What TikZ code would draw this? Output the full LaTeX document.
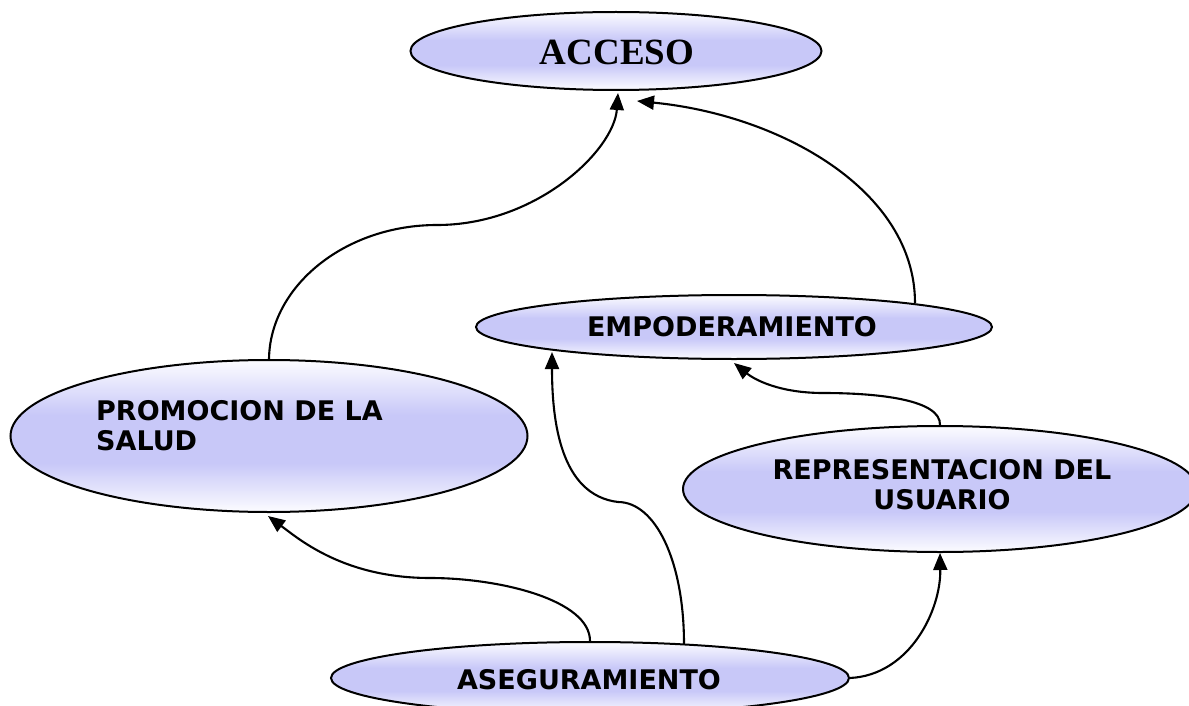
\documentclass[tikz,border=0pt]{standalone}
\usepackage{fontspec}
\setmainfont{DejaVu Sans}
\newfontfamily\accfont{Liberation Serif}
\usetikzlibrary{shapes.geometric,arrows.meta,calc}
\definecolor{lav}{RGB}{200,200,248}
\definecolor{lavedge}{RGB}{252,252,255}
\pgfdeclareverticalshading{lavshade}{100bp}{color(0bp)=(lavedge); color(25bp)=(lavedge); color(41bp)=(lav); color(57bp)=(lav); color(75bp)=(lavedge); color(100bp)=(lavedge)}
\begin{document}
\begin{tikzpicture}[x=1pt,y=-1pt,
  ell/.style={ellipse, draw=black, line width=2pt, inner sep=0pt, shading=lavshade},
  lbl/.style={font=\fontsize{27}{30}\selectfont\bfseries, align=center, inner sep=0pt},
  acclbl/.style={font=\accfont\fontsize{37}{40}\selectfont\bfseries, inner sep=0pt},
  conn/.style={line width=2.1pt, -{Triangle[length=17pt,width=14pt]}}]
\useasboundingbox (0,0) rectangle (1189,706);
\clip (0,0) rectangle (1189,706);

% nodes
\node[ell, minimum width=411, minimum height=78] (acc) at (616,51) {};
\node[acclbl] (accT) at (617,52.5) {ACCESO};

\node[ell, minimum width=516, minimum height=64] (emp) at (734,327) {};
\node[lbl] (empT) at (732,326.5) {EMPODERAMIENTO};

\node[ell, minimum width=517, minimum height=152] (prom) at (269,436) {};
\node[lbl, align=left, anchor=north west] (promT) at (96,400) {PROMOCION DE LA\\SALUD};

\node[ell, minimum width=514, minimum height=126] (rep) at (940,489) {};
\node[lbl, anchor=north] (repT) at (942,459) {REPRESENTACION DEL\\USUARIO};

\node[ell, minimum width=518, minimum height=72] (ase) at (590,678) {};
\node[lbl] (aseT) at (589,680) {ASEGURAMIENTO};

% connectors
\draw[conn] (prom.north) .. controls (270,286) and (345,225) .. (437,225)
  .. controls (537,225) and (614,150) .. ($(acc.south)+(2,2)$);
\draw[conn] ($(emp.center)+(181,-24)$) .. controls (915,190) and (780,115) .. ($(acc.south)+(21,10)$);
\draw[conn] (rep.north) .. controls (941,400) and (880,393) .. (823,393)
  .. controls (780,393) and (755,380) .. ($(emp.south)+(0,3)$);
\draw[conn] ($(ase.center)+(94,-34)$) .. controls (684,560) and (655,502) .. (618,502)
  .. controls (560,495) and (552,420) .. ($(emp.center)+(-182,25)$);
\draw[conn] (ase.north) .. controls (590,600) and (500,578) .. (430,578)
  .. controls (345,578) and (300,540) .. ($(prom.south)+(-1,3)$);
\draw[conn] (ase.east) .. controls (910,675) and (941,610) .. (rep.south);
\end{tikzpicture}
\end{document}
